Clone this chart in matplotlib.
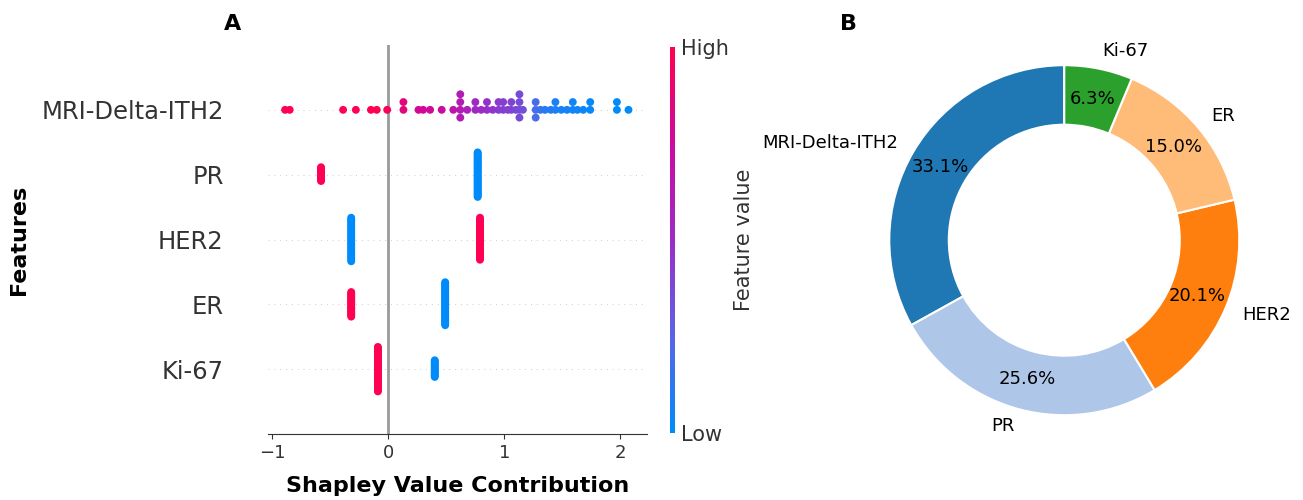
import numpy as np
import matplotlib
matplotlib.use('Agg')
import matplotlib.pyplot as plt
from matplotlib.colors import LinearSegmentedColormap, Normalize
from matplotlib.cm import ScalarMappable

# ---- panel A: SHAP values (one dot per patient) ----
features = ['MRI-Delta-ITH2', 'PR', 'HER2', 'ER', 'Ki-67']

ith_shap = [-0.89, -0.85, -0.39, -0.28, -0.15, -0.10, -0.01,
            0.13, 0.13,
            0.26, 0.30, 0.36, 0.46, 0.56,
            0.62, 0.62, 0.62, 0.62,
            0.68, 0.75, 0.75, 0.80, 0.85, 0.85, 0.90, 0.95, 0.95,
            0.99, 0.99, 1.03, 1.06, 1.06, 1.10,
            1.13, 1.13, 1.13, 1.13, 1.16,
            1.27, 1.27, 1.27, 1.31, 1.35, 1.40, 1.44, 1.44, 1.49, 1.54,
            1.59, 1.59, 1.63, 1.68, 1.74, 1.74,
            1.97, 1.97, 2.07]
# normalised feature value (0 = low, 1 = high)
ith_value = [1.0, 1.0, 1.0, 1.0, 1.0, 1.0, 0.97,
             0.86, 0.86,
             0.78, 0.78, 0.77, 0.74, 0.68,
             0.62, 0.62, 0.62, 0.62,
             0.58, 0.52, 0.52, 0.50, 0.48, 0.48, 0.46, 0.44, 0.44,
             0.42, 0.42, 0.41, 0.40, 0.40, 0.38,
             0.36, 0.36, 0.36, 0.36, 0.34,
             0.20, 0.20, 0.20, 0.15, 0.12, 0.10, 0.08, 0.08, 0.07, 0.06,
             0.05, 0.05, 0.04, 0.03, 0.02, 0.02,
             0.0, 0.0, 0.0]

# binary features: shap value of each group, group size, feature value
pr_shap, pr_count, pr_value = [-0.58, 0.77], [14, 43], [1, 0]
her2_shap, her2_count, her2_value = [-0.32, 0.79], [29, 28], [0, 1]
er_shap, er_count, er_value = [-0.32, 0.49], [21, 36], [1, 0]
ki67_shap, ki67_count, ki67_value = [-0.09, 0.40], [41, 16], [1, 0]

# ---- panel B: share of mean |SHAP| ----
importance = [33.1, 25.6, 20.1, 15.0, 6.3]
pie_colors = ['#1f77b4', '#aec7e8', '#ff7f0e', '#ffbb78', '#2ca02c']

red_blue = LinearSegmentedColormap.from_list(
    'red_blue', ['#008bfb', '#5a64e6', '#9b2cc6', '#cc0a9e', '#ff0052'])
AXIS_COLOR = '#333333'


def swarm_offsets(xs, row_height=0.4):
    """shap-style stacking: equal values pile up 0, +1, -1, +2, ..."""
    xs = np.asarray(xs, dtype=float)
    ys = np.zeros(len(xs))
    layer, last = 0, None
    for i in np.argsort(xs, kind='stable'):
        if xs[i] != last:
            layer = 0
        ys[i] = np.ceil(layer / 2) * ((layer % 2) * 2 - 1)
        layer += 1
        last = xs[i]
    return ys * 0.9 * (row_height / np.max(ys + 1))


rows = [
    (ith_shap, ith_value),
    (np.repeat(pr_shap, pr_count), np.repeat(pr_value, pr_count)),
    (np.repeat(her2_shap, her2_count), np.repeat(her2_value, her2_count)),
    (np.repeat(er_shap, er_count), np.repeat(er_value, er_count)),
    (np.repeat(ki67_shap, ki67_count), np.repeat(ki67_value, ki67_count)),
]

fig = plt.figure(figsize=(13.03, 5.0), dpi=100)

# ---- A: beeswarm ----
ax = fig.add_axes([0.2057, 0.132, 0.2909, 0.778])
ax.axvline(0, color='#999999', lw=2, zorder=1)
n = len(rows)
for i, (xs, vs) in enumerate(rows):
    pos = n - 1 - i
    ax.axhline(pos, color='#cccccc', lw=0.7, dashes=(1, 5), zorder=0)
    ax.scatter(xs, pos + swarm_offsets(xs), c=vs, cmap=red_blue, vmin=0, vmax=1,
               s=32, linewidth=0, zorder=3)

ax.set_xlim(-1.037, 2.23)
ax.set_ylim(-1, n)
ax.set_yticks(range(n))
ax.set_yticklabels(features[::-1], fontsize=17.5, color=AXIS_COLOR)
ax.tick_params('y', length=0, pad=32)
ax.tick_params('x', labelsize=13, color=AXIS_COLOR, labelcolor=AXIS_COLOR)
for side in ['left', 'top', 'right']:
    ax.spines[side].set_visible(False)
ax.spines['bottom'].set_color(AXIS_COLOR)
ax.set_xlabel('Shapley Value Contribution', fontsize=16, fontweight='bold', labelpad=10)
ax.set_ylabel('Features', fontsize=16, fontweight='bold')
ax.yaxis.set_label_coords(-0.63, 0.5)

# colour bar
cax = fig.add_axes([0.5142, 0.134, 0.0038, 0.772])
sm = ScalarMappable(norm=Normalize(0, 1), cmap=red_blue)
cb = fig.colorbar(sm, cax=cax, ticks=[0, 1])
cb.set_ticklabels(['Low', 'High'])
cb.outline.set_visible(False)
cax.tick_params(length=0, labelsize=15, pad=4, labelcolor=AXIS_COLOR)
cb.set_label('Feature value', size=15, labelpad=4, color=AXIS_COLOR)

# ---- B: donut ----
ax2 = fig.add_axes([0.6489, 0.0821, 0.3358, 0.875])
ax2.pie(importance, labels=features, colors=pie_colors, autopct='%1.1f%%',
        startangle=90, pctdistance=0.82, labeldistance=1.1,
        wedgeprops=dict(width=0.34, edgecolor='white', linewidth=1.5),
        textprops=dict(fontsize=13))
ax2.set_xlim(-1.25, 1.25)
ax2.set_ylim(-1.25, 1.25)
ax2.set_aspect('equal')

fig.text(233 / 1303, 1 - 24 / 500, 'A', fontsize=16, fontweight='bold', ha='center', va='center')
fig.text(848 / 1303, 1 - 24 / 500, 'B', fontsize=16, fontweight='bold', ha='center', va='center')

fig.savefig('out.png', dpi=100)
